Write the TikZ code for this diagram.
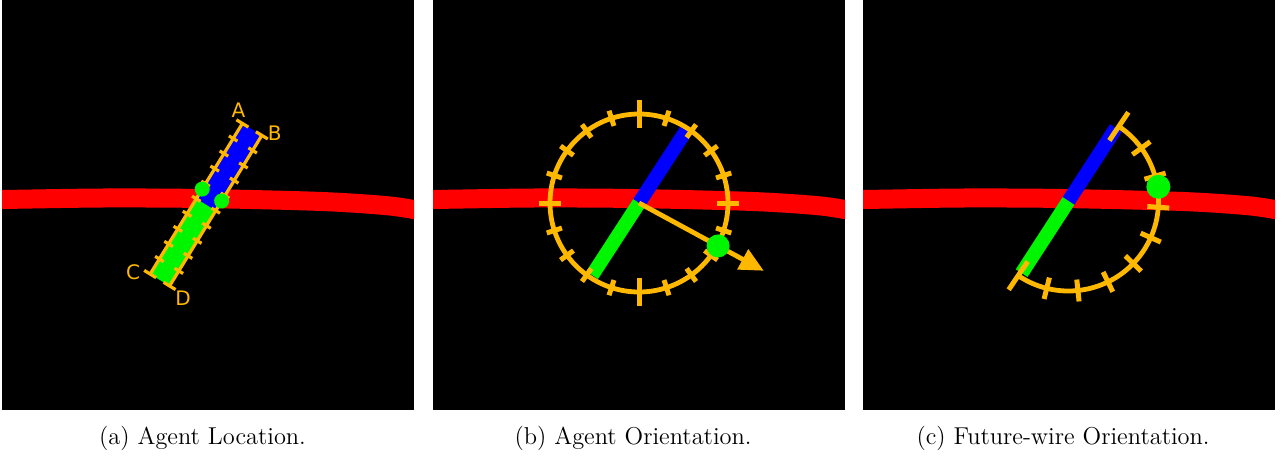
\documentclass[tikz,border=0pt]{standalone}
\usepackage{fontspec}
\newfontfamily\labelfont{DejaVu Sans}
\usetikzlibrary{arrows.meta,calc}
\definecolor{gold}{RGB}{255,184,0}
\definecolor{wirered}{RGB}{255,0,0}
\definecolor{agentblue}{RGB}{0,0,255}
\definecolor{agentgreen}{RGB}{0,245,0}

\begin{document}
\begin{tikzpicture}[x=0.5pt, y=0.5pt,
    wire/.style={wirered, line width=9.5pt},
    rail/.style={gold, line width=1.6pt},
    ring/.style={gold, line width=2.4pt},
    tickmark/.style={gold, line width=2.5pt},
    dot/.style={fill=agentgreen},
    lbl/.style={gold, font=\labelfont\fontsize{10}{12}\selectfont},
    subcap/.style={anchor=base, font=\fontsize{12.2}{14}\selectfont}]

    \useasboundingbox (0,0) rectangle (1288,457);

    \foreach \px in {2, 433, 863} {
        \begin{scope}[shift={(\px,47)}]
            \fill[black] (0,0) rectangle (412,410);
            \clip (0,0) rectangle (412,410);
            \draw[wire] plot[smooth] coordinates {(-10,210.5) (0,210.5) (100,212) (200,211.5) (320,208.5) (388,204) (425,198)};
        \end{scope}
    }

    \begin{scope}[shift={(2,47)}]
        \begin{scope}[shift={(204,205.3)}, rotate=58.5]
            \fill[agentblue] (0,-11.4) rectangle (88.3,11.4);
            \fill[agentgreen] (-88.3,-11.4) rectangle (0,11.4);
            \draw[rail] (-88.3,11.4) coordinate (endC) -- (88.3,11.4) coordinate (endA);
            \draw[rail] (-88.3,-11.4) coordinate (endD) -- (88.3,-11.4) coordinate (endB);
            \foreach \s in {-11.4, 11.4} {
                \foreach \t in {1,...,9}
                    \draw[rail] ({-88.3+17.66*\t},{\s-5}) -- ++(0,10);
                \foreach \t in {-88.3, 88.3}
                    \draw[rail] (\t,{\s-7}) -- ++(0,14);
                \fill[dot] (11.3,\s) circle (7.5);
            }
        \end{scope}
        \node[lbl] (labA) at ($(endA)+(-4,13)$) {A};
        \node[lbl] (labB) at ($(endB)+(13,2.5)$) {B};
        \node[lbl] (labC) at ($(endC)+(-17,1.5)$) {C};
        \node[lbl] (labD) at ($(endD)+(13.5,-12)$) {D};
    \end{scope}

    \begin{scope}[shift={(433,47)}]
        \coordinate (hub) at (206,207);
        \draw[agentblue, line width=7pt] (hub) -- ++(57:87);
        \draw[agentgreen, line width=7pt] (hub) -- ++(237:86);
        \draw[ring] (hub) circle (89);
        \foreach \a in {0,18,...,342} {
            \pgfmathsetmacro{\len}{(mod(\a,90)==0) ? ((mod(\a,180)==0) ? 22 : 28) : 16}
            \draw[tickmark] (hub) ++(\a:{89-\len/2}) -- ++(\a:\len);
        }
        \draw[ring, -{Triangle[length=12pt, width=11pt]}] (hub) -- ++(-28.5:142) coordinate (tip);
        \fill[dot] (hub) ++(-28.5:90) circle (11.5);
    \end{scope}

    \begin{scope}[shift={(863,47)}]
        \coordinate (pivot) at (205.5,209);
        \draw[agentblue, line width=7pt] (pivot) -- ++(57:87);
        \draw[agentgreen, line width=7pt] (pivot) -- ++(237:86);
        \draw[ring] (pivot) ++(56:90) arc[start angle=56, end angle=-124, radius=90];
        \foreach \k in {1,...,8}
            \draw[tickmark] (pivot) ++({56-20*\k}:79) -- ++({56-20*\k}:22);
        \foreach \a in {56, -124}
            \draw[tickmark] (pivot) ++(\a:73) -- ++(\a:34);
        \fill[dot] (pivot) ++(9:91) circle (12);
    \end{scope}

    \node[subcap] (subA) at (202.5,13) {(a) Agent Location.};
    \node[subcap] (subB) at (633,13) {(b) Agent Orientation.};
    \node[subcap] (subC) at (1063,13) {(c) Future-wire Orientation.};
\end{tikzpicture}
\end{document}
